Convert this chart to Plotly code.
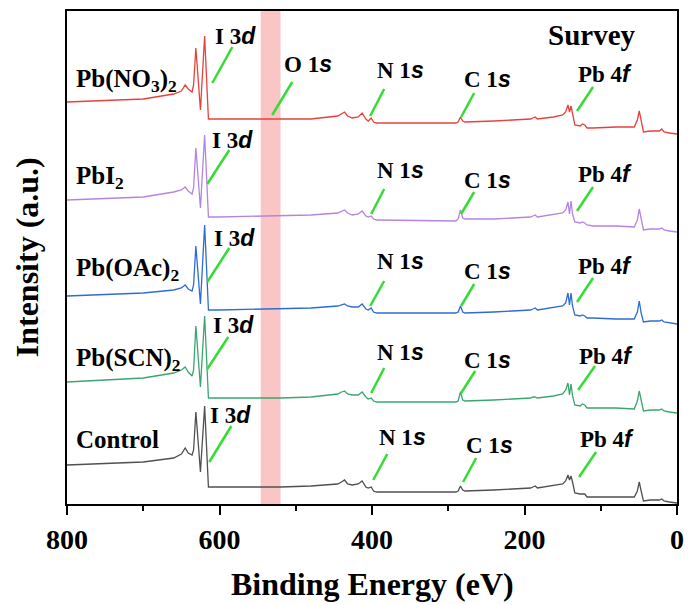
import plotly.graph_objects as go

# Binding energy grid (eV) shared by all spectra
energy = [800, 700, 660, 650, 645, 641, 636, 634, 631, 625,
          619.5, 614.5, 600, 546, 520, 480, 445, 440, 436, 432,
          426, 418, 413, 408, 405, 401, 398, 394, 330, 290,
          287, 284, 281, 278, 240, 192, 189, 186, 183, 162,
          150, 146, 143, 141, 139, 137, 134, 127, 124, 121,
          118, 110, 80, 56, 52, 49.5, 47, 44, 35, 23,
          20, 17, 10, 0]

# Stacked (offset) intensities, arbitrary units
pb_no3 = [402, 405, 410, 413, 419, 415, 412, 419, 456, 394,
          468, 385, 385, 385, 385, 385, 388, 390, 392, 388,
          386, 387, 391, 385, 383, 386, 382, 381, 381, 381,
          382, 387, 383, 382, 383, 385, 386, 387, 385, 387,
          389, 392, 399, 392, 398, 390, 379, 378, 380, 379,
          376, 376, 377, 377, 384, 393, 382, 372, 373, 373,
          375, 372, 371, 370]
pbi2 = [304, 307, 312, 314, 317, 313, 310, 316, 356, 296,
        369, 287, 287, 288, 288, 289, 291, 293, 294, 291,
        289, 290, 293, 288, 287, 288, 285, 284, 283, 283,
        285, 294, 286, 285, 285, 287, 288, 289, 287, 290,
        291, 294, 302, 290, 303, 290, 282, 281, 282, 281,
        279, 278, 278, 277, 284, 295, 284, 274, 275, 275,
        276, 274, 273, 272]
pb_oac = [208, 211, 214, 216, 219, 215, 213, 219, 258, 200,
          279, 194, 194, 195, 195, 196, 198, 199, 200, 198,
          197, 197, 200, 195, 194, 196, 192, 191, 191, 191,
          192, 198, 192, 191, 192, 194, 195, 196, 194, 197,
          198, 201, 211, 199, 211, 198, 189, 188, 189, 188,
          186, 186, 185, 185, 192, 203, 191, 182, 183, 183,
          184, 182, 181, 180]
pb_scn = [122, 126, 131, 134, 137, 132, 128, 134, 178, 117,
          188, 106, 106, 106, 106, 107, 110, 112, 113, 110,
          109, 109, 112, 107, 105, 106, 103, 102, 102, 102,
          103, 112, 104, 103, 104, 106, 107, 107, 106, 108,
          110, 114, 121, 109, 120, 108, 99, 98, 100, 99,
          96, 96, 96, 95, 103, 113, 102, 93, 94, 94,
          95, 93, 92, 91]
control = [39, 42, 46, 50, 56, 51, 49, 54, 92, 32,
           98, 17, 17, 17, 17, 18, 20, 22, 24, 20,
           19, 20, 23, 17, 16, 17, 13, 12, 12, 12,
           13, 18, 14, 13, 14, 16, 17, 18, 16, 19,
           20, 23, 29, 24, 28, 22, 11, 10, 10, 10,
           7, 7, 7, 7, 13, 22, 13, 3, 4, 4,
           5, 3, 2, 1]

series_names = ["Pb(NO<sub>3</sub>)<sub>2</sub>", "PbI<sub>2</sub>",
                "Pb(OAc)<sub>2</sub>", "Pb(SCN)<sub>2</sub>", "Control"]
series_values = [pb_no3, pbi2, pb_oac, pb_scn, control]
series_colors = ["#e8413c", "#b584e3", "#2f6bd3", "#3aa66e", "#505050"]
name_label_y = [424, 327, 235, 145, 65]

x_ticks = [800, 600, 400, 200, 0]
x_minor = [700, 500, 300, 100]
band = [520, 546]

# Peak annotations: (text, line x0, y0, x1, y1, text x, text y)
SANS = "font-family:'Liberation Sans',Arial,sans-serif"
def lab(a, b):
    return f"<b>{a}<i><span style=\"{SANS}\">{b}</span></i></b>"

peak_labels = [
    # Pb(NO3)2
    (lab("I 3", "d"), 609.4, 421, 583.2, 457, 579.3, 468),
    (lab("O 1", "s"), 530.8, 389, 504.6, 422, 483.6, 440),
    (lab("N 1", "s"), 402.4, 388, 384, 415, 363, 434),
    (lab("C 1", "s"), 283.1, 387, 266, 411, 249, 425),
    (lab("Pb 4", "f"), 131.1, 393, 110.1, 417, 94.4, 430),
    # PbI2
    (lab("I 3", "d"), 616, 320, 587.2, 354, 583.2, 364),
    (lab("N 1", "s"), 401, 290, 384, 315, 363, 334),
    (lab("C 1", "s"), 283.1, 290, 266, 312, 249, 324),
    (lab("Pb 4", "f"), 131.1, 293, 110.1, 317, 94.4, 330),
    # Pb(OAc)2
    (lab("I 3", "d"), 616, 222, 587.2, 256, 580.6, 266),
    (lab("N 1", "s"), 402.4, 198, 384, 223, 363, 243),
    (lab("C 1", "s"), 283.1, 198, 266, 220, 249, 233),
    (lab("Pb 4", "f"), 131.1, 202, 110.1, 226, 94.4, 238),
    # Pb(SCN)2
    (lab("I 3", "d"), 616, 135, 588.5, 167, 581.9, 179),
    (lab("N 1", "s"), 401, 111, 384, 136, 363, 152),
    (lab("C 1", "s"), 283.1, 111, 264.7, 133, 249, 144),
    (lab("Pb 4", "f"), 129.7, 114, 107.5, 138, 93, 148),
    # Control
    (lab("I 3", "d"), 613.4, 42, 584.5, 78, 585.8, 89),
    (lab("N 1", "s"), 398.4, 24, 380, 50, 360.4, 67),
    (lab("C 1", "s"), 280.5, 22, 263.4, 46, 246.4, 59),
    (lab("Pb 4", "f"), 128.4, 27, 106.2, 52, 91.7, 65),
]

SERIF = "Liberation Serif"

fig = go.Figure()
for name, vals, col in zip(series_names, series_values, series_colors):
    fig.add_trace(go.Scatter(x=energy, y=vals, mode="lines", name=name,
                             line=dict(color=col, width=1.3), showlegend=False))

shapes = [dict(type="rect", xref="x", yref="paper", x0=band[0], x1=band[1], y0=0, y1=1,
               fillcolor="rgba(248,178,178,0.75)", line=dict(width=0), layer="below")]
annotations = []
for text, x0, y0, x1, y1, tx, ty in peak_labels:
    shapes.append(dict(type="line", xref="x", yref="y", x0=x0, y0=y0, x1=x1, y1=y1,
                       line=dict(color="#33dd33", width=2.5)))
    annotations.append(dict(x=tx, y=ty, xref="x", yref="y", text=text, showarrow=False,
                            xanchor="center", yanchor="middle",
                            font=dict(family=SERIF, size=23, color="black")))

for name, y in zip(series_names, name_label_y):
    annotations.append(dict(x=791, y=y, xref="x", yref="y", text=f"<b>{name}</b>",
                            showarrow=False, xanchor="left", yanchor="middle",
                            font=dict(family=SERIF, size=25, color="black")))

annotations.append(dict(x=111.4, y=469, xref="x", yref="y", text="<b>Survey</b>",
                        showarrow=False, xanchor="center", yanchor="middle",
                        font=dict(family=SERIF, size=29, color="black")))
annotations.append(dict(x=0.5, y=-0.1623, xref="paper", yref="paper",
                        text="<b>Binding Energy (eV)</b>", showarrow=False,
                        xanchor="center", yanchor="middle",
                        font=dict(family=SERIF, size=32, color="black")))
annotations.append(dict(x=-0.066, y=0.5, xref="paper", yref="paper",
                        text="<b>Intensity (a.u.)</b>", showarrow=False, textangle=-90,
                        xanchor="center", yanchor="middle",
                        font=dict(family=SERIF, size=32, color="black")))

fig.update_layout(
    width=688, height=605,
    margin=dict(l=67, r=11, t=11, b=101, autoexpand=False),
    paper_bgcolor="white", plot_bgcolor="white",
    shapes=shapes, annotations=annotations,
    xaxis=dict(range=[800, 0], tickvals=x_ticks, ticktext=[str(v) for v in x_ticks],
               ticks="outside", ticklen=9, tickwidth=2, tickcolor="black",
               showline=True, linewidth=2, linecolor="black", mirror=True,
               showgrid=False, zeroline=False, automargin=False,
               tickfont=dict(family=SERIF, size=28, color="black", weight="bold"),
               minor=dict(tickvals=x_minor, ticks="outside", ticklen=5, tickwidth=2,
                          tickcolor="black", showgrid=False)),
    yaxis=dict(range=[0, 493], showticklabels=False, ticks="",
               showline=True, linewidth=2, linecolor="black", mirror=True,
               showgrid=False, zeroline=False, automargin=False),
)

fig.write_html("out.html")
